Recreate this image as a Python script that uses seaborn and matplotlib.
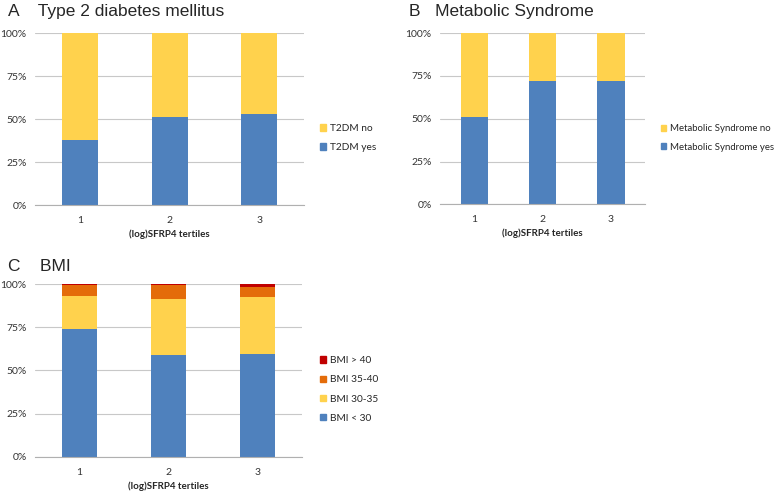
"""
SFRP4 tertiles vs. metabolic outcomes - stacked percentage bars
"""

import numpy as np
import pandas as pd
import matplotlib
matplotlib.use("Agg")
import matplotlib.pyplot as plt
from matplotlib.patches import Patch
from matplotlib.ticker import FixedLocator, PercentFormatter
import seaborn as sns

# data (fractions, bottom segment first)
tertiles = ["1", "2", "3"]

t2dm_labels = ["T2DM yes", "T2DM no"]
t2dm_yes = [0.378, 0.513, 0.527]
t2dm_no = [0.622, 0.487, 0.473]

mets_labels = ["Metabolic Syndrome yes", "Metabolic Syndrome no"]
mets_yes = [0.509, 0.719, 0.719]
mets_no = [0.491, 0.281, 0.281]

bmi_labels = ["BMI < 30", "BMI 30-35", "BMI 35-40", "BMI > 40"]
bmi_lt30 = [0.743, 0.587, 0.593]
bmi_30_35 = [0.189, 0.328, 0.330]
bmi_35_40 = [0.064, 0.080, 0.058]
bmi_gt40 = [0.004, 0.005, 0.019]

BLUE = "#4F81BD"
YELLOW = "#FFD24D"
ORANGE = "#E46C0A"
RED = "#C00000"

sns.set_style("white")
plt.rcParams["font.family"] = ["Lato", "DejaVu Sans"]


def stacked_panel(fig, rect, series, labels, colors, title, legend_xy,
                  legend_size=7.3):
    ax = fig.add_axes(rect)
    df = pd.DataFrame({lab: vals for lab, vals in zip(labels, series)})
    df["tertile"] = tertiles
    cum = df[labels].cumsum(axis=1)
    # draw tallest first so lower segments overlay it
    for lab, col in reversed(list(zip(labels, colors))):
        sns.barplot(x=df["tertile"], y=cum[lab], color=col, width=0.4,
                    saturation=1, linewidth=0, ax=ax)

    ax.set_ylim(0, 1)
    ax.set_xlim(-0.5, 2.5)
    ax.yaxis.set_major_locator(FixedLocator([0, 0.25, 0.5, 0.75, 1.0]))
    ax.yaxis.set_major_formatter(PercentFormatter(1.0, decimals=0))
    ax.grid(axis="y", color="#C8C8C8", linewidth=0.8)
    ax.set_axisbelow(True)
    for s in ["top", "right", "left"]:
        ax.spines[s].set_visible(False)
    ax.spines["bottom"].set_color("#B0B0B0")
    ax.spines["bottom"].set_linewidth(0.8)
    ax.xaxis.set_minor_locator(FixedLocator([-0.5, 0.5, 1.5, 2.5]))
    ax.tick_params(axis="x", which="major", length=0, labelsize=7.5, pad=8,
                   colors="#333333")
    ax.tick_params(axis="x", which="minor", length=3, color="#B0B0B0",
                   direction="out")
    ax.tick_params(axis="y", length=0, labelsize=7.5, pad=6, colors="#333333")
    ax.set_xlabel("(log)SFRP4 tertiles", fontsize=7, fontweight="bold",
                  labelpad=3)
    ax.set_ylabel("")

    handles = [Patch(color=c, label=l) for l, c in zip(labels, colors)][::-1]
    fig.legend(handles=handles, loc="center left", bbox_to_anchor=legend_xy,
               frameon=False, fontsize=legend_size, handlelength=0.6,
               handleheight=0.6, handletextpad=0.4, labelspacing=1.0,
               borderpad=0, borderaxespad=0)

    fig.text(title[0], title[1], title[2], fontsize=12.5,
             family=["Liberation Sans", "DejaVu Sans"], va="top")
    return ax


fig = plt.figure(figsize=(7.78, 4.93), dpi=100)

stacked_panel(fig, [0.045, 0.584, 0.346, 0.349], [t2dm_yes, t2dm_no],
              t2dm_labels, [BLUE, YELLOW],
              (0.010, 0.992, "A    Type 2 diabetes mellitus"),
              (0.411, 0.720))

stacked_panel(fig, [0.5656, 0.5856, 0.2635, 0.347], [mets_yes, mets_no],
              mets_labels, [BLUE, YELLOW],
              (0.526, 0.992, "B   Metabolic Syndrome"),
              (0.849, 0.720), legend_size=6.9)

stacked_panel(fig, [0.045, 0.0736, 0.343, 0.350],
              [bmi_lt30, bmi_30_35, bmi_35_40, bmi_gt40],
              bmi_labels, [BLUE, YELLOW, ORANGE, RED],
              (0.010, 0.475, "C    BMI"),
              (0.411, 0.210))

fig.savefig("out.png", dpi=100)
